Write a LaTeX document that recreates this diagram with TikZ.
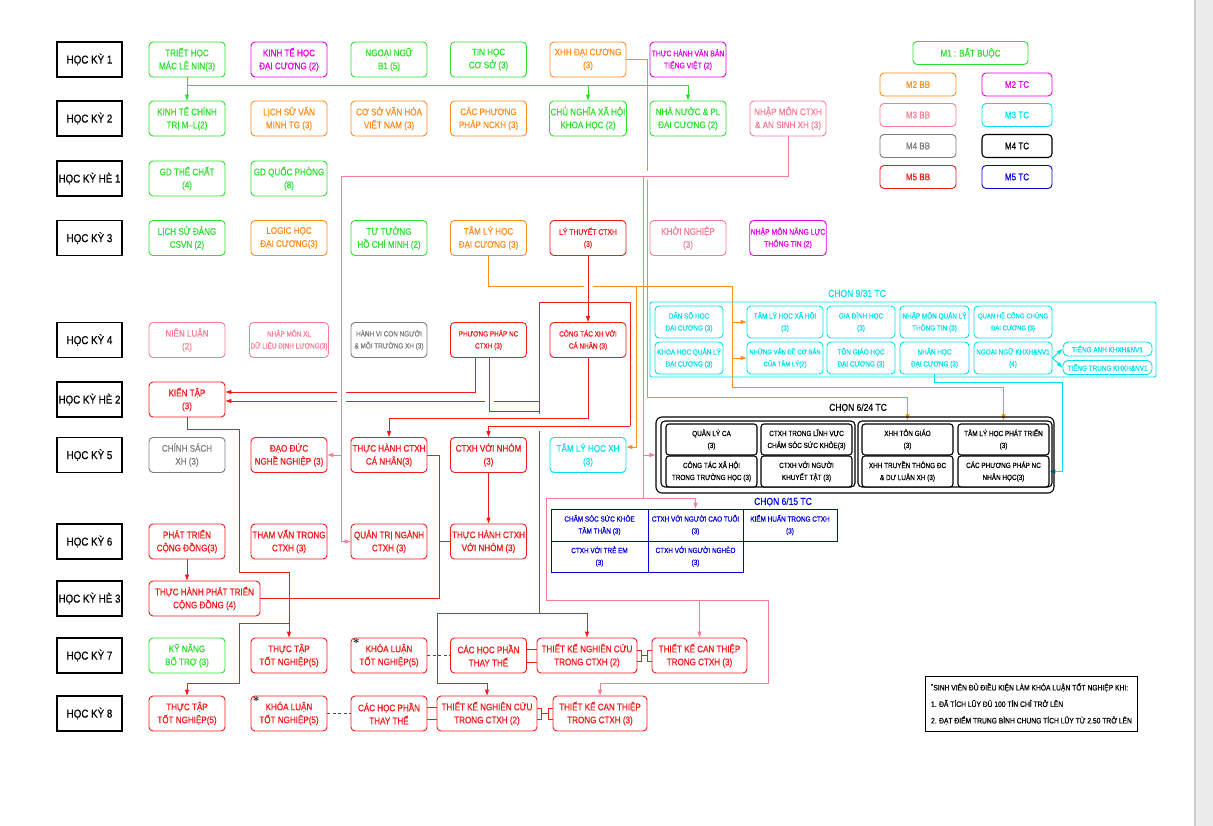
\documentclass[tikz,border=0pt]{standalone}
\usepackage{fontspec}
\newfontfamily\cad[FakeStretch=0.85,FakeBold=0.5]{Liberation Sans}
\usetikzlibrary{arrows.meta,calc}

\definecolor{mgreen}{RGB}{45,225,45}
\definecolor{mmag}{RGB}{230,0,230}
\definecolor{morange}{RGB}{255,140,30}
\definecolor{mpink}{RGB}{250,125,150}
\definecolor{mgray}{RGB}{125,125,125}
\definecolor{mcyan}{RGB}{0,225,235}
\definecolor{mred}{RGB}{245,25,25}
\definecolor{mblue}{RGB}{0,0,225}

\pgfdeclarelayer{bg}
\pgfsetlayers{bg,main}

\tikzset{
  ink/.style={draw=#1, text=#1},
  crs/.style={draw, rounded corners=4pt, line width=0.9pt, fill=white, align=center,
    inner sep=1pt, minimum width=76pt, minimum height=35pt,
    font=\cad\fontsize{9.5}{13}\selectfont},
  sm/.style={font=\cad\fontsize{8}{12}\selectfont},
  xs/.style={font=\cad\fontsize{7.5}{12}\selectfont},
  req/.style={crs, ink=mgreen},
  m2bb/.style={crs, ink=morange},
  m2tc/.style={crs, ink=mmag},
  m3bb/.style={crs, ink=mpink},
  m3tc/.style={crs, ink=mcyan},
  m4bb/.style={crs, ink=mgray},
  m4tc/.style={crs, ink=black, line width=1.1pt},
  m5bb/.style={crs, ink=mred},
  m5tc/.style={crs, ink=mblue},
  sem/.style={draw, line width=1.2pt, minimum width=65pt, minimum height=35pt,
    inner sep=1pt, font=\cad\fontsize{11.5}{14}\selectfont},
  lgd/.style={minimum height=23pt},
  opt/.style={minimum height=32pt, xs},
  pick/.style={m4tc, xs, minimum width=91pt, minimum height=31pt, rounded corners=3pt},
  cell/.style={draw=mblue, text=mblue, line width=0.9pt, align=center, inner sep=1pt,
    xs, fill=white},
  grp/.style={font=\cad\fontsize{10}{12}\selectfont},
  star/.style={label={[anchor=north west, inner sep=0pt, xshift=2pt, yshift=-1pt,
    text=black, font=\bfseries\large]north west:*}},
  link/.style={line width=0.9pt},
  arr/.style={-{Triangle[length=6pt,width=4pt]}},
  halo/.style={preaction={draw=white, line width=9pt, -}},
}

\begin{document}
\begin{tikzpicture}[x=1pt,y=-1pt]
\useasboundingbox (0,0) rectangle (1213,826);
\fill[gray!15] (1194,0) rectangle (1213,826);
\draw[gray!40, line width=1.5pt] (1194.75,0) -- (1194.75,826);

% semesters
\foreach \n/\y/\t in {hk1/59.5/HỌC KỲ 1, hk2/118.5/HỌC KỲ 2, hkh1/178.5/HỌC KỲ HÈ 1,
    hk3/238/HỌC KỲ 3, hk4/340/HỌC KỲ 4, hkh2/399.5/HỌC KỲ HÈ 2, hk5/455/HỌC KỲ 5,
    hk6/541.5/HỌC KỲ 6, hkh3/598.5/HỌC KỲ HÈ 3, hk7/655.5/HỌC KỲ 7, hk8/713.5/HỌC KỲ 8}
  \node[sem] (\n) at (89.5,\y) {\t};

% hoc ky 1
\node[req] (th) at (187,59.5) {TRIẾT HỌC\\MÁC LÊ NIN(3)};
\node[m2tc] (kth) at (289,59.5) {KINH TẾ HỌC\\ĐẠI CƯƠNG (2)};
\node[req] (nn) at (389,59.5) {NGOẠI NGỮ\\B1 (5)};
\node[req] (tin) at (488.5,59.5) {TIN HỌC\\CƠ SỞ (3)};
\node[m2bb] (xhh) at (588,59.5) {XHH ĐẠI CƯƠNG\\(3)};
\node[m2tc, sm] (thvb) at (688,59.5) {THỰC HÀNH VĂN BẢN\\TIẾNG VIỆT (2)};
% hoc ky 2
\node[req] (ktct) at (187,118.5) {KINH TẾ CHÍNH\\TRỊ M–L(2)};
\node[m2bb] (lsvm) at (289,118.5) {LỊCH SỬ VĂN\\MINH TG (3)};
\node[m2bb] (csvh) at (389,118.5) {CƠ SỞ VĂN HÓA\\VIỆT NAM (3)};
\node[m2bb] (ppnckh) at (488.5,118.5) {CÁC PHƯƠNG\\PHÁP NCKH (3)};
\node[req] (cnxh) at (588,118.5) {CHỦ NGHĨA XÃ HỘI\\KHOA HỌC (2)};
\node[req] (nnpl) at (688,118.5) {NHÀ NƯỚC \& PL\\ĐẠI CƯƠNG (2)};
\node[m3bb] (nmctxh) at (788,118.5) {NHẬP MÔN CTXH\\\& AN SINH XH (3)};
% he 1
\node[req] (gdtc) at (187,178.5) {GD THỂ CHẤT\\(4)};
\node[req] (gdqp) at (289,178.5) {GD QUỐC PHÒNG\\(8)};
% hoc ky 3
\node[req] (lsd) at (187,238) {LỊCH SỬ ĐẢNG\\CSVN (2)};
\node[m2bb] (logic) at (289,238) {LOGIC HỌC\\ĐẠI CƯƠNG(3)};
\node[req] (tthcm) at (389,238) {TƯ TƯỞNG\\HỒ CHÍ MINH (2)};
\node[m2bb] (tlhdc) at (488.5,238) {TÂM LÝ HỌC\\ĐẠI CƯƠNG (3)};
\node[m5bb, sm] (ltctxh) at (588,238) {LÝ THUYẾT CTXH\\(3)};
\node[m3bb] (khoin) at (688,238) {KHỞI NGHIỆP\\(3)};
\node[m2tc, sm] (nmnl) at (788,238) {NHẬP MÔN NĂNG LỰC\\THÔNG TIN (2)};
% hoc ky 4
\node[m3bb] (nienl) at (187,340) {NIÊN LUẬN\\(2)};
\node[m3bb, xs] (nmxl) at (289,340) {NHẬP MÔN XL\\DỮ LIỆU ĐỊNH LƯỢNG(3)};
\node[m4bb, xs] (hvcn) at (389,340) {HÀNH VI CON NGƯỜI\\\& MÔI TRƯỜNG XH (3)};
\node[m5bb, xs] (ppnc) at (488.5,340) {PHƯƠNG PHÁP NC\\CTXH (3)};
\node[m5bb, xs] (ctxhcn) at (588,340) {CÔNG TÁC XH VỚI\\CÁ NHÂN (3)};
% he 2
\node[m5bb] (kientap) at (187,399.5) {KIẾN TẬP\\(3)};
% hoc ky 5
\node[m4bb] (csxh) at (187,455) {CHÍNH SÁCH\\XH (3)};
\node[m5bb] (ddnn) at (289,455) {ĐẠO ĐỨC\\NGHỀ NGHIỆP (3)};
\node[m5bb] (thcn) at (389,455) {THỰC HÀNH CTXH\\CÁ NHÂN(3)};
\node[m5bb] (ctxhnhom) at (488.5,455) {CTXH VỚI NHÓM\\(3)};
\node[m3tc] (tlhxh5) at (588,455) {TÂM LÝ HỌC XH\\(3)};
% hoc ky 6
\node[m5bb] (ptcd) at (187,541.5) {PHÁT TRIỂN\\CỘNG ĐỒNG(3)};
\node[m5bb] (thamvan) at (289,541.5) {THAM VẤN TRONG\\CTXH (3)};
\node[m5bb] (qtn) at (389,541.5) {QUẢN TRỊ NGÀNH\\CTXH (3)};
\node[m5bb] (thnhom) at (488.5,541.5) {THỰC HÀNH CTXH\\VỚI NHÓM (3)};
% he 3
\node[m5bb, minimum width=111pt] (thptcd) at (204.5,598.5) {THỰC HÀNH PHÁT TRIỂN\\CỘNG ĐỒNG (4)};
% hoc ky 7
\node[req] (kynang) at (187,655.5) {KỸ NĂNG\\BỔ TRỢ (3)};
\node[m5bb] (tttn7) at (289,655.5) {THỰC TẬP\\TỐT NGHIỆP(5)};
\node[m5bb, star] (kl7) at (389,655.5) {KHÓA LUẬN\\TỐT NGHIỆP(5)};
\node[m5bb] (hptt7) at (488.5,655.5) {CÁC HỌC PHẦN\\THAY THẾ};
\node[m5bb, minimum width=100pt] (tknc7) at (587,655.5) {THIẾT KẾ NGHIÊN CỨU\\TRONG CTXH (2)};
\node[m5bb, minimum width=95pt] (tkct7) at (699.5,655.5) {THIẾT KẾ CAN THIỆP\\TRONG CTXH (3)};
% hoc ky 8
\node[m5bb] (tttn8) at (187,713.5) {THỰC TẬP\\TỐT NGHIỆP(5)};
\node[m5bb, star] (kl8) at (289,713.5) {KHÓA LUẬN\\TỐT NGHIỆP(5)};
\node[m5bb] (hptt8) at (389,713.5) {CÁC HỌC PHẦN\\THAY THẾ};
\node[m5bb, minimum width=100pt] (tknc8) at (487,713.5) {THIẾT KẾ NGHIÊN CỨU\\TRONG CTXH (2)};
\node[m5bb, minimum width=94pt] (tkct8) at (600,713.5) {THIẾT KẾ CAN THIỆP\\TRONG CTXH (3)};

% chon 9/31
\node[grp, text=mcyan] (l931) at (857,294) {CHỌN 9/31 TC};
\node[draw=mcyan, line width=0.9pt, rounded corners=2pt, minimum width=506pt,
  minimum height=75pt, inner sep=0pt] (g931) at (903,339.5) {};
\node[m3tc, opt, minimum width=68pt] (dsh) at (689,322) {DÂN SỐ HỌC\\ĐẠI CƯƠNG (3)};
\node[m3tc, opt, minimum width=76pt] (tlxh) at (785,322) {TÂM LÝ HỌC XÃ HỘI\\(3)};
\node[m3tc, opt, minimum width=68pt] (gdh) at (861,322) {GIA ĐÌNH HỌC\\(3)};
\node[m3tc, opt, minimum width=69pt] (nmql) at (934.5,322) {NHẬP MÔN QUẢN LÝ\\THÔNG TIN (3)};
\node[m3tc, opt, minimum width=78pt, font=\cad\fontsize{7}{12}\selectfont] (qhcc) at (1013,322) {QUAN HỆ CÔNG CHÚNG\\ĐẠI CƯƠNG (3)};
\node[m3tc, opt, minimum width=68pt] (khql) at (689,358) {KHOA HỌC QUẢN LÝ\\ĐẠI CƯƠNG (3)};
\node[m3tc, opt, minimum width=76pt, font=\cad\fontsize{7}{12}\selectfont] (nvdcb) at (785,358) {NHỮNG VẤN ĐỀ CƠ BẢN\\CỦA TÂM LÝ(2)};
\node[m3tc, opt, minimum width=68pt] (tgh) at (861,358) {TÔN GIÁO HỌC\\ĐẠI CƯƠNG (3)};
\node[m3tc, opt, minimum width=69pt] (nhanh) at (934.5,358) {NHÂN HỌC\\ĐẠI CƯƠNG (3)};
\node[m3tc, opt, minimum width=78pt] (ngoaingu) at (1013,358) {NGOẠI NGỮ KHXH\&NV1\\(4)};
\node[m3tc, xs, minimum width=89pt, minimum height=14pt, rounded corners=5pt] (tanh) at (1107.5,349) {TIẾNG ANH KHXH\&NV1};
\node[m3tc, xs, minimum width=89pt, minimum height=14pt, rounded corners=5pt] (ttrung) at (1107.5,367.5) {TIẾNG TRUNG KHXH\&NV1};

% chon 6/24
\node[grp] (l624) at (858,408) {CHỌN 6/24 TC};
\node[draw, line width=1.1pt, rounded corners=6pt, minimum width=398pt, minimum height=76pt,
  inner sep=0pt] (g624) at (855,455) {};
\node[draw, line width=1.1pt, rounded corners=4pt, minimum width=194pt, minimum height=66pt,
  inner sep=0pt] (gL) at (758,454) {};
\node[draw, line width=1.1pt, rounded corners=4pt, minimum width=194pt, minimum height=66pt,
  inner sep=0pt] (gR) at (955,454) {};
\node[pick] (qlca) at (711.5,439.5) {QUẢN LÝ CA\\(3)};
\node[pick] (ctxhsk) at (806.5,439.5) {CTXH TRONG LĨNH VỰC\\CHĂM SÓC SỨC KHỎE(3)};
\node[pick] (ctxhth) at (711.5,471.5) {CÔNG TÁC XÃ HỘI\\TRONG TRƯỜNG HỌC (3)};
\node[pick] (ctxhkt) at (806.5,471.5) {CTXH VỚI NGƯỜI\\KHUYẾT TẬT (3)};
\node[pick] (xhhtg) at (907.5,439.5) {XHH TÔN GIÁO\\(3)};
\node[pick] (xhhtt) at (907.5,471.5) {XHH TRUYỀN THÔNG ĐC\\\& DƯ LUẬN XH (3)};
\node[pick] (tlhpt) at (1003.5,439.5) {TÂM LÝ HỌC PHÁT TRIỂN\\(3)};
\node[pick] (ppnh) at (1003.5,471.5) {CÁC PHƯƠNG PHÁP NC\\NHÂN HỌC(3)};

% chon 6/15
\node[grp, text=mblue] (l615) at (783,502) {CHỌN 6/15 TC};
\node[cell, minimum width=97pt, minimum height=32pt] (cssk) at (599.5,525) {CHĂM SÓC SỨC KHỎE\\TÂM THẦN (3)};
\node[cell, minimum width=95pt, minimum height=32pt] (ctxhct) at (695.5,525) {CTXH VỚI NGƯỜI CAO TUỔI\\(3)};
\node[cell, minimum width=94pt, minimum height=32pt] (kiemh) at (790,525) {KIỂM HUẤN TRONG CTXH\\(3)};
\node[cell, minimum width=97pt, minimum height=31pt] (ctxhte) at (599.5,556.5) {CTXH VỚI TRẺ EM\\(3)};
\node[cell, minimum width=95pt, minimum height=31pt] (ctxhng) at (695.5,556.5) {CTXH VỚI NGƯỜI NGHÈO\\(3)};

% legend
\node[req, lgd, minimum width=115pt] (lg1) at (970.5,53) {M1 :  BẮT BUỘC};
\node[m2bb, lgd] (lg2b) at (918,84.5) {M2 BB};
\node[m2tc, lgd, minimum width=70pt] (lg2t) at (1017,84.5) {M2 TC};
\node[m3bb, lgd] (lg3b) at (918,115) {M3 BB};
\node[m3tc, lgd, minimum width=70pt] (lg3t) at (1017,115) {M3 TC};
\node[m4bb, lgd] (lg4b) at (918,146) {M4 BB};
\node[m4tc, lgd, minimum width=70pt] (lg4t) at (1017,146) {M4 TC};
\node[m5bb, lgd] (lg5b) at (918,177) {M5 BB};
\node[m5tc, lgd, minimum width=70pt] (lg5t) at (1017,177) {M5 TC};

% ghi chu
\node[draw, line width=1pt, anchor=north west, align=left, inner sep=3pt,
  minimum width=212pt, minimum height=55pt, font=\cad\fontsize{7.9}{16.5}\selectfont]
  (note) at (925,676)
  {\textsuperscript{*}SINH VIÊN ĐỦ ĐIỀU KIỆN LÀM KHÓA LUẬN TỐT NGHIỆP KHI:\\
   1. ĐÃ TÍCH LŨY ĐỦ 100 TÍN CHỈ TRỞ LÊN\\
   2. ĐẠT ĐIỂM TRUNG BÌNH CHUNG TÍCH LŨY TỪ 2.50 TRỞ LÊN};

\begin{pgfonlayer}{bg}
  % levels
  \coordinate (yg) at (0,85);
  \coordinate (xo1) at (647,0); \coordinate (yo1) at (0,397);
  \coordinate (yo2) at (0,286); \coordinate (xo2) at (732,0);
  \coordinate (xo3) at (636,0); \coordinate (yo3) at (0,387); \coordinate (yo4) at (0,447);
  \coordinate (xp1) at (475,0); \coordinate (xp2) at (489,0);
  \coordinate (yk1) at (0,392); \coordinate (yk2) at (0,401);
  \coordinate (xr1) at (539,0); \coordinate (xr2) at (630,0); \coordinate (xr3) at (437,0);
  \coordinate (yr1) at (0,302); \coordinate (yr2) at (0,418); \coordinate (yr3) at (0,411);
  \coordinate (yr4) at (0,426); \coordinate (yr5) at (0,613); \coordinate (yr6) at (0,683);
  \coordinate (xk) at (239,0); \coordinate (yk3) at (0,429); \coordinate (yk4) at (0,572);
  \coordinate (yk5) at (0,623); \coordinate (xt) at (439,0);
  \coordinate (xq) at (341,0); \coordinate (yp1) at (0,176); \coordinate (xpk) at (643,0);
  \coordinate (yp2) at (0,498); \coordinate (xpl) at (546,0); \coordinate (yp3) at (0,600);
  \coordinate (xpr) at (768,0);
  \coordinate (xc1) at (1062,0); \coordinate (yc1) at (0,382);

  % orange
  \draw[link, morange, arr] (xhh.east) -| (xo1 |- yo1) -| (xhhtg.north |- gR.north);
  \draw[link, morange, arr] (tlhdc.south) |- (xo2 |- yo2) |- (tlhpt.north |- yo3)
    -- (tlhpt.north |- gR.north);
  \draw[link, morange, arr] (xo2 |- tlxh.west) -- (tlxh.west);
  \draw[link, morange, arr] (xo2 |- nvdcb.west) -- (nvdcb.west);
  \draw[link, morange, arr] (xo3 |- yo2) |- (tlhxh5.east |- yo4);

  % red
  \draw[link, mred, arr] (ppnc.south -| xp1) |- (kientap.east |- yk1);
  \draw[link, mred, arr] (xr1 |- yk2) -- (kientap.east |- yk2);
  \draw[link, mred, halo] (ppnc.south -| xp2) |- (xr1 |- yr3);
  \draw[link, mred, arr] (xr1 |- yr1) -- (xr1 |- yr5) -| (tknc7.north);
  \draw[link, mred, arr] (xr1 |- yr5) -| (xr3 |- yr6) -| (tknc8.north);
  \draw[link, mred, arr, halo] (ltctxh) -- (ctxhcn);
  \draw[link, mred, arr, halo] (ctxhcn.south) |- (thcn.north |- yr2) -- (thcn.north);
  \draw[link, mred, arr, halo] (xr2 |- yr4) -| (ctxhnhom.north);
  \draw[link, mred] (xr1 |- yr1) -| (xr2 |- yr4);
  \draw[link, mred, arr] (kientap.south) |- (xk |- yk3) |- (tttn7.north |- yk4) -- (tttn7.north);
  \draw[link, mred, arr] (tttn7.north |- yk5) -| (xk |- yr6) -| (tttn8.north);
  \draw[link, mred, arr] (ptcd.south) -- (ptcd.south |- thptcd.north);
  \draw[link, mred] (thcn.east) -| (xt |- thptcd.east) -- (thptcd.east);
  \draw[link, mred] (xt |- thnhom.west) -- (thnhom.west);
  \draw[link, mred, arr] (ctxhnhom) -- (thnhom);
  \draw[link, mred] ($(hptt7.east)+(0,-6.5)$) -- ($(tknc7.west)+(0,-6.5)$);
  \draw[link, mred] ($(hptt7.east)+(0,6.5)$) -- ($(tknc7.west)+(0,6.5)$);
  \draw[link, mred] ($(hptt8.east)+(0,-6)$) -- ($(tknc8.west)+(0,-6)$);
  \draw[link, mred] ($(hptt8.east)+(0,6)$) -- ($(tknc8.west)+(0,6)$);
  \draw[link, mred] ($(tknc7.east)+(0,-5.5)$) -- ++(4,0) -- ++(0,11) -- ($(tknc7.east)+(0,5.5)$);
  \draw[link, mred] ($(tkct7.west)+(0,-5.5)$) -- ++(-4,0) -- ++(0,11) -- ($(tkct7.west)+(0,5.5)$);
  \draw[link, mred] ($(tknc7.east)+(4,0)$) -- ($(tkct7.west)+(-4,0)$);
  \draw[link, mred] ($(tknc8.east)+(0,-5.5)$) -- ++(4,0) -- ++(0,11) -- ($(tknc8.east)+(0,5.5)$);
  \draw[link, mred] ($(tkct8.west)+(0,-5.5)$) -- ++(-4,0) -- ++(0,11) -- ($(tkct8.west)+(0,5.5)$);
  \draw[link, mred] ($(tknc8.east)+(4,0)$) -- ($(tkct8.west)+(-4,0)$);
  \draw[line width=0.7pt, black!70, dash pattern=on 3pt off 2.5pt] (kl7) -- (hptt7);
  \draw[line width=0.7pt, black!70, dash pattern=on 3pt off 2.5pt] (kl8) -- (hptt8);

  % pink
  \draw[link, mpink, arr, halo] (nmctxh.south) |- (xq |- yp1) |- (qtn.west);
  \draw[link, mpink, arr] (xq |- ddnn.east) -- (ddnn.east);
  \draw[link, mpink] (xpk |- yp1) -- (xpk |- yp2);
  \draw[link, mpink, arr] (xpk |- g624.west) -- (g624.west);
  \draw[link, mpink, arr] (xpk |- yp2) -| (ctxhct.north);
  \draw[link, mpink, arr] (xpk |- yp2) -| (xpl |- yp3) -| (xpr |- yr6) -| (tkct8.north);
  \draw[link, mpink, arr] (tkct7.north |- yp3) -- (tkct7.north);

  % green
  \draw[link, mgreen, arr] (th) -- (ktct);
  \draw[link, mgreen] (th.south |- yg) -- (nnpl.north |- yg);
  \draw[link, mgreen, arr] (cnxh.north |- yg) -- (cnxh.north);
  \draw[link, mgreen, arr] (nnpl.north |- yg) -- (nnpl.north);

  % cyan
  \draw[link, mcyan, arr] (nhanh.south) |- (xc1 |- yc1) |- (ppnh.east);
  \draw[link, mcyan, arr] (ngoaingu.east) -- (tanh.west);
  \draw[link, mcyan, arr] (ngoaingu.east) -- (ttrung.west);
\end{pgfonlayer}
\end{tikzpicture}
\end{document}
